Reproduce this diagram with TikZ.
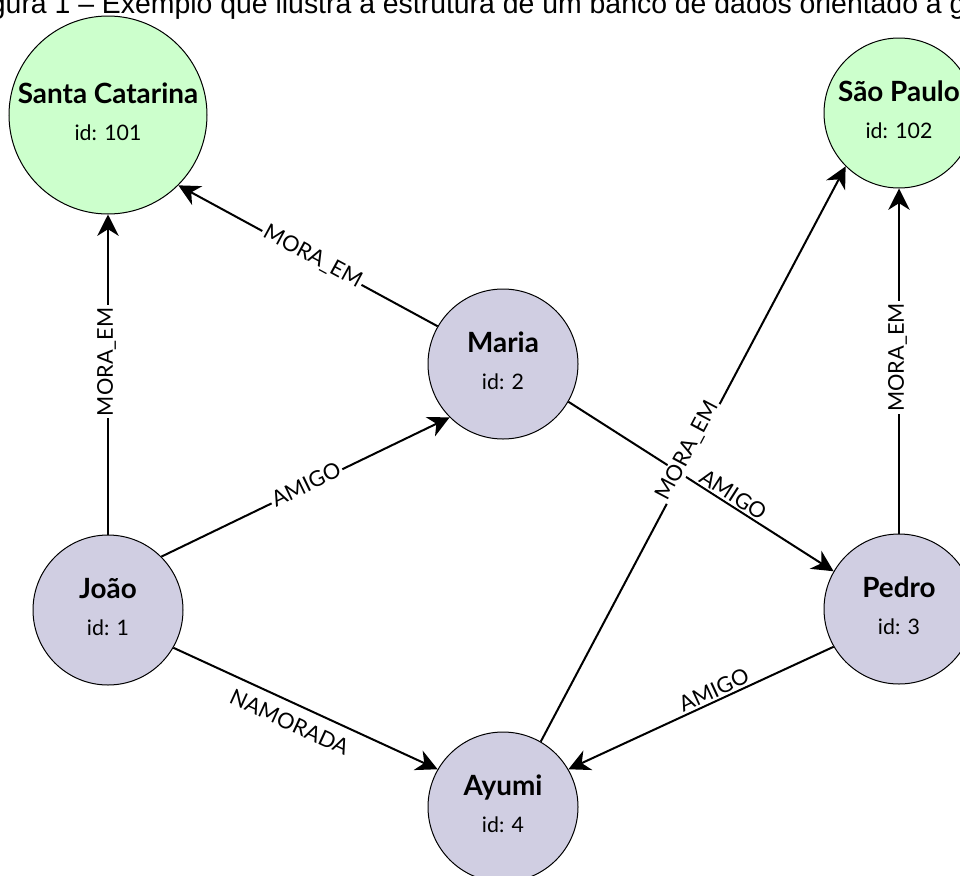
\documentclass[tikz,border=0pt]{standalone}
\usepackage{fontspec}
\setmainfont{Lato}
\newfontfamily\captionfont{Liberation Sans}
\usetikzlibrary{arrows.meta}

\definecolor{placefill}{HTML}{CCFFCC}
\definecolor{personfill}{HTML}{D0CEE2}

\tikzset{
  entity/.style={circle, draw=black, line width=0.75pt, inner sep=0pt, align=center,
    text height=38.6pt, text depth=0pt,
    font=\fontsize{16pt}{28.3pt}\selectfont},
  person/.style={entity, fill=personfill, minimum size=112.5pt},
  place/.style={entity, fill=placefill, minimum size=112.5pt},
  bigplace/.style={place, minimum size=148.5pt},
  rel/.style={line width=1.5pt, -{Stealth[length=16pt,width=16pt,inset=5pt]}},
  elabel/.style={fill=white, inner xsep=1.5pt, inner ysep=1pt, sloped,
    font=\fontsize{16.3pt}{18pt}\selectfont},
  plainlabel/.style={inner sep=1pt, sloped, font=\fontsize{16.3pt}{18pt}\selectfont},
}
\newcommand{\entname}[1]{{\bfseries\fontsize{20.9pt}{28.3pt}\selectfont #1}}

\begin{document}
\begin{tikzpicture}[x=0.75pt, y=-0.75pt]
\useasboundingbox (0,0) rectangle (960,875);
\clip (0,0) rectangle (960,875);

% caption line
\node[anchor=base west, inner sep=0pt, font=\captionfont\fontsize{21.3pt}{25pt}\selectfont]
  (caption) at (-34,13) {Figura 1 – Exemplo que ilustra a estrutura de um banco de dados orientado a grafos};

% entities
\node[bigplace] (sc) at (108,115) {\entname{Santa Catarina}\\id: 101};
\node[place] (sp) at (899,113) {\entname{São Paulo}\\id: 102};
\node[person] (maria) at (503,364) {\entname{Maria}\\id: 2};
\node[person] (joao) at (108,610) {\entname{João}\\id: 1};
\node[person] (pedro) at (899,609) {\entname{Pedro}\\id: 3};
\node[person] (ayumi) at (503,807) {\entname{Ayumi}\\id: 4};

% relationships
\draw[rel] (joao.90) -- node[elabel, pos=0.54, yshift=1.1pt] (l1) {MORA\_EM} (sc.270);
\draw[rel] (maria.150) -- node[elabel, pos=0.485, yshift=1pt] (l2) {MORA\_EM} (sc.-45);
\draw[rel] (joao.45) -- node[elabel, pos=0.505, yshift=1.5pt] (l3) {AMIGO} (maria.225);
\draw[rel] (maria.-30) -- node[elabel, pos=0.60, yshift=8pt] (l4) {AMIGO} (pedro.150);
\draw[rel] (ayumi.60) -- node[elabel, pos=0.50, yshift=4.9pt] (l5) {MORA\_EM} (sp.225);
\draw[rel] (pedro.90) -- node[elabel, pos=0.51, yshift=1.1pt] (l6) {MORA\_EM} (sp.270);
\draw[rel] (pedro.210) -- node[elabel, pos=0.434, yshift=8.2pt] (l7) {AMIGO} (ayumi.30);
\draw[rel] (joao.-30) -- node[plainlabel, pos=0.47, yshift=-14.3pt] (l8) {NAMORADA} (ayumi.150);
\end{tikzpicture}
\end{document}
